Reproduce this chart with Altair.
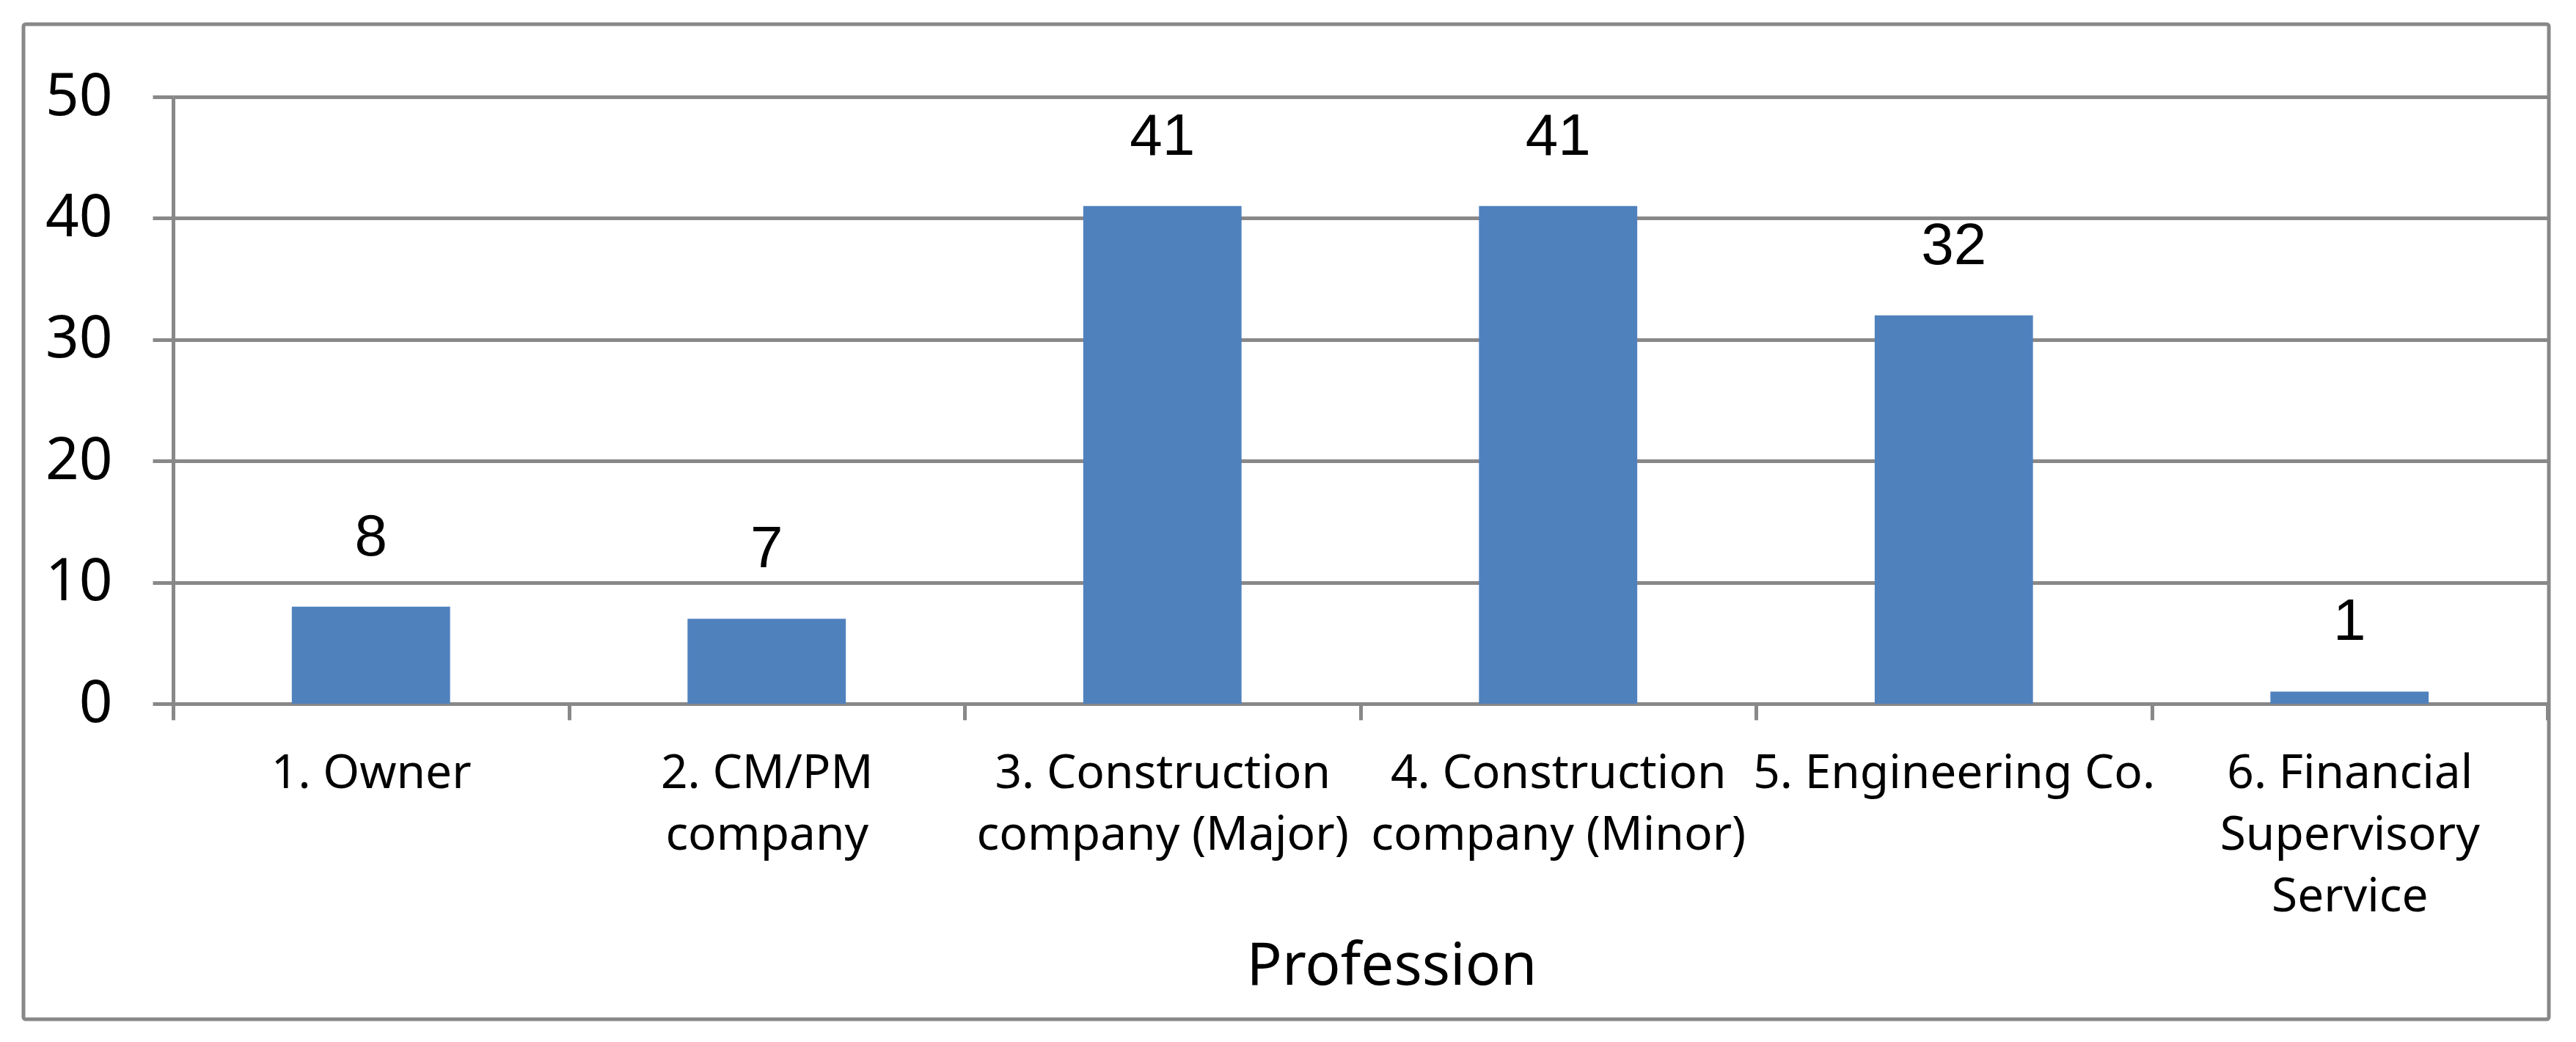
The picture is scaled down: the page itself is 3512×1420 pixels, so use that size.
import altair as alt
import pandas as pd

categories = [
    "1. Owner",
    "2. CM/PM\ncompany",
    "3. Construction\ncompany (Major)",
    "4. Construction\ncompany (Minor)",
    "5. Engineering Co.",
    "6. Financial\nSupervisory\nService",
]
values = [8, 7, 41, 41, 32, 1]
y_ticks = [0, 10, 20, 30, 40, 50]

df = pd.DataFrame({"cat": categories, "val": values})
GRAY = "#888888"

x_enc = alt.X(
    "cat:N",
    sort=None,
    scale=alt.Scale(paddingInner=0, paddingOuter=0),
    axis=alt.Axis(
        tickBand="extent",
        grid=False,
        domainColor=GRAY,
        domainWidth=5,
        tickColor=GRAY,
        tickWidth=5,
        tickSize=22,
        labelAngle=0,
        labelFont="Noto Sans",
        labelFontSize=64,
        labelLineHeight=84,
        labelPadding=41,
        labelColor="black",
        labelOverlap=False,
        labelBound=False,
        labelLimit=0,
        labelExpr="isValid(datum.value) ? split(datum.value, '\\n') : ''",
        title="Profession",
        titleFont="Noto Sans",
        titleFontSize=80,
        titleFontWeight="normal",
        titleColor="black",
        titleX=1661,
        titleY=382,
        titleBaseline="alphabetic",
        titleAlign="center",
    ),
)
y_enc = alt.Y(
    "val:Q",
    scale=alt.Scale(domain=[0, 50], nice=False),
    axis=alt.Axis(
        values=y_ticks,
        domainColor=GRAY,
        domainWidth=5,
        tickColor=GRAY,
        tickWidth=5,
        tickSize=28,
        gridColor=GRAY,
        gridWidth=5,
        labelFont="Noto Sans",
        labelFontSize=80,
        labelPadding=55,
        labelColor="black",
        title=None,
    ),
)

border = alt.Chart(pd.DataFrame({"k": [0]})).mark_rect(
    fill="transparent", stroke=GRAY, strokeWidth=5, cornerRadius=3
).encode(
    x=alt.value(-204), x2=alt.value(3239), y=alt.value(-99), y2=alt.value(1257)
)

bars = alt.Chart(df).mark_bar(
    color="#4F81BD", width=alt.RelativeBandSize(0.4)
).encode(x=x_enc, y=y_enc)

labels = alt.Chart(df).mark_text(
    dy=-70, baseline="alphabetic", font="Liberation Sans", fontSize=80, color="black"
).encode(x=x_enc, y=y_enc, text="val:Q")

chart = alt.layer(border, bars, labels).properties(
    width=3237,
    height=827,
    autosize=alt.AutoSizeParams(type="none"),
    padding={"left": 228, "top": 124, "right": 20, "bottom": 450},
    background="white",
).configure_view(stroke=None)

chart.save("out.html", embed_options={"renderer": "svg", "actions": False})
